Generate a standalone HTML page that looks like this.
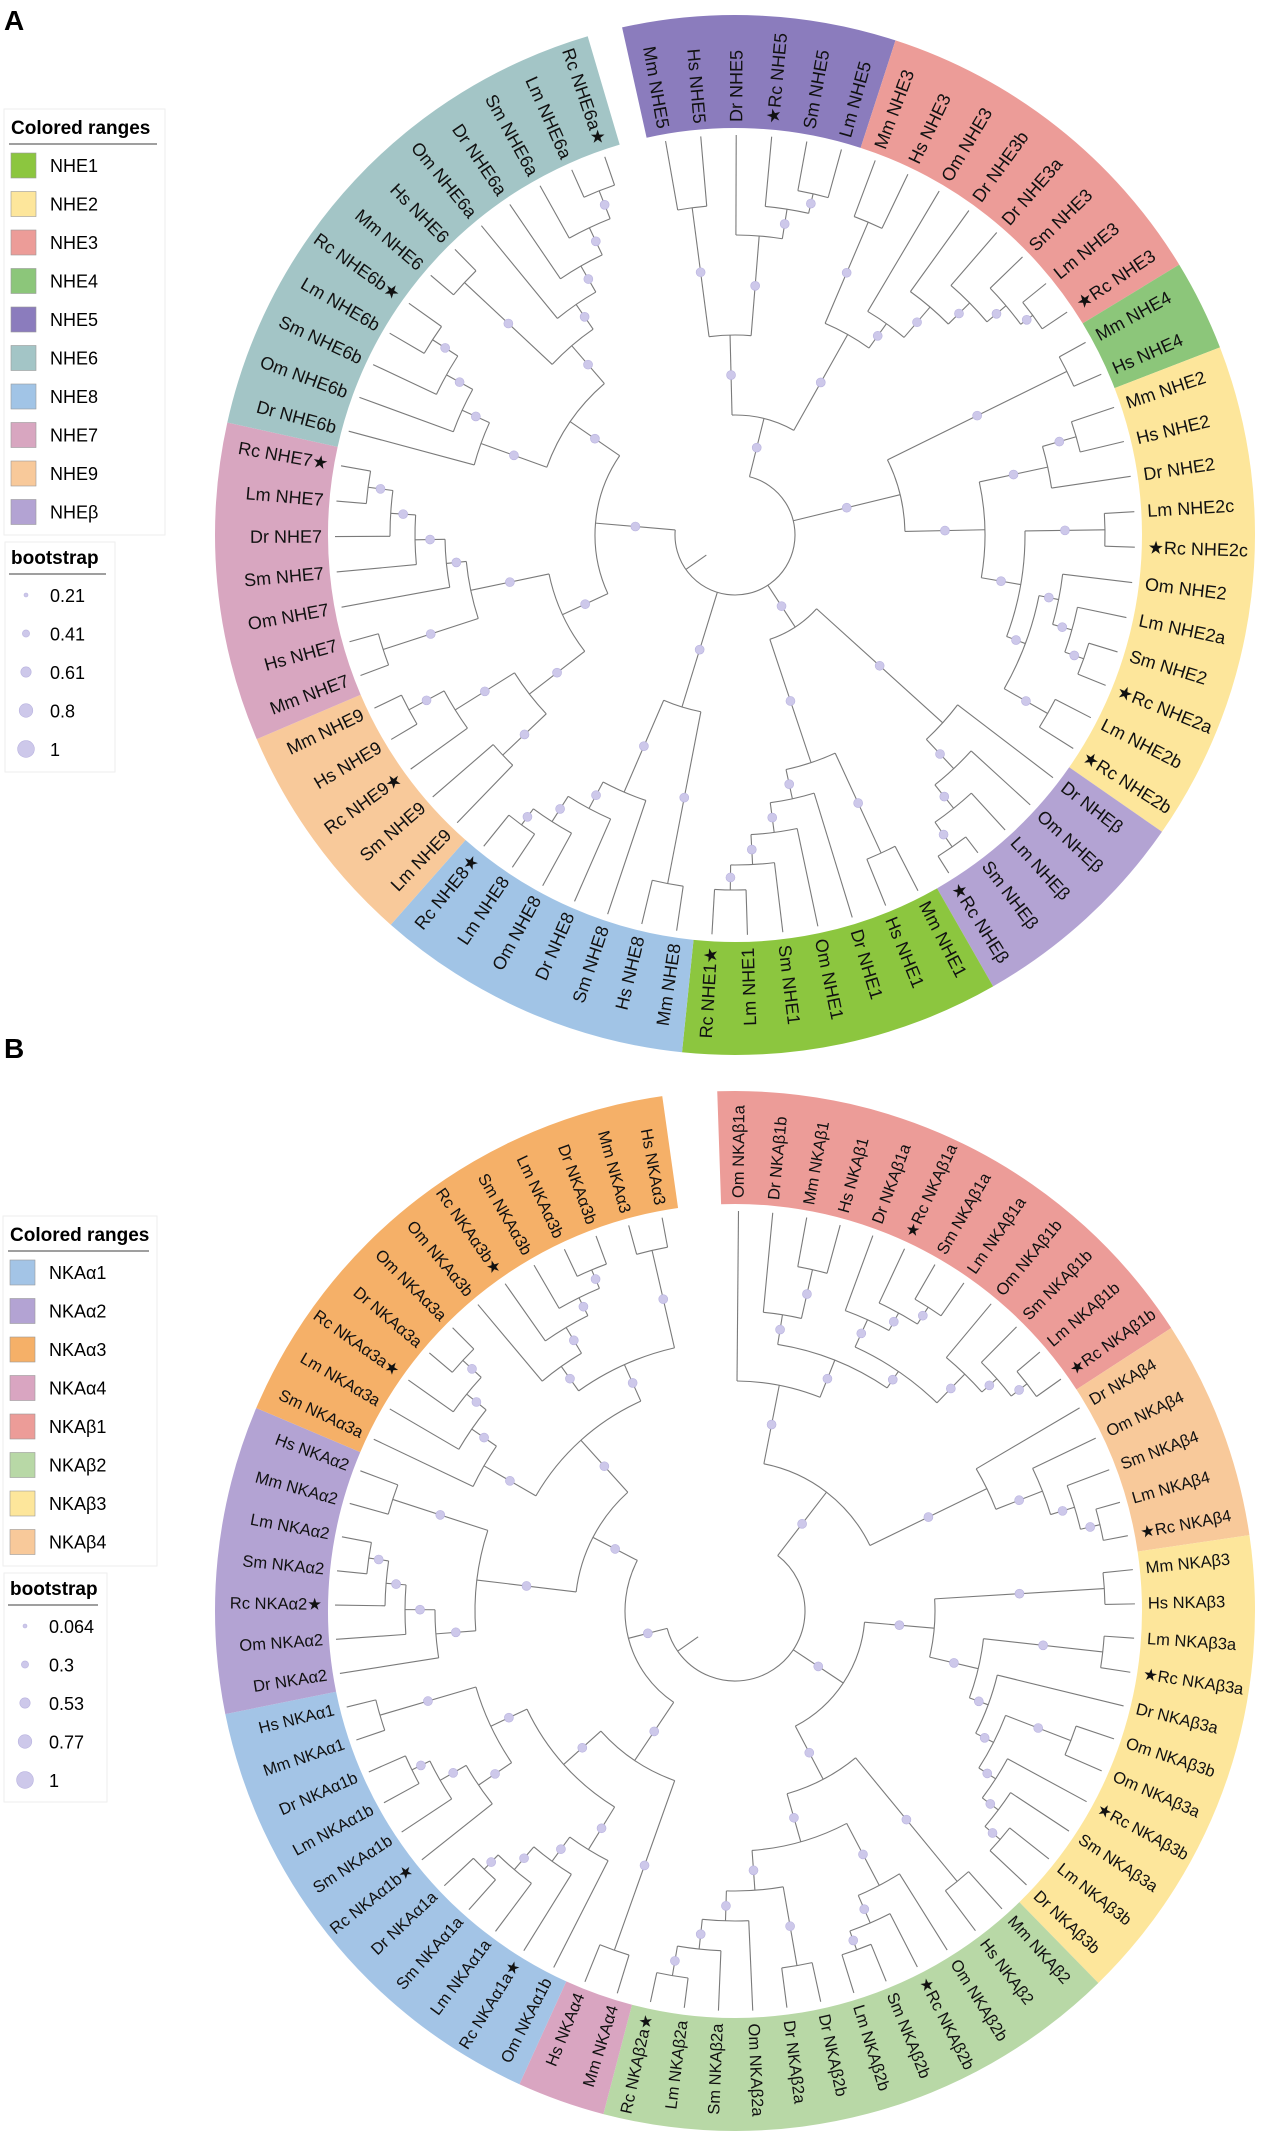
<!DOCTYPE html>
<html><head><meta charset="utf-8"><style>
body{margin:0;background:#fff;}
svg{display:block;font-family:"Liberation Sans","DejaVu Sans",sans-serif;}
</style></head><body>
<svg id="fig" width="1265" height="2145" viewBox="0 0 1265 2145" xmlns="http://www.w3.org/2000/svg">
<text x="4" y="30" font-size="28" font-weight="bold">A</text>
<text x="4" y="1058" font-size="28" font-weight="bold">B</text>
<g id="treeA"></g>
<g id="treeB"></g>
<g id="legends"></g>
</svg>
<script>
// ---- Tree A data ----
const cladesA = ["NHE5","NHE3","NHE4","NHE2","NHEβ","NHE1","NHE8","NHE9","NHE7","NHE6"];
const cladeCountsA = [6,8,2,11,5,7,7,5,7,12];
const cladeColorsA = ["#8b7cbd","#ec9c98","#8cc67a","#fde69b","#b3a3d3","#8cc63f","#a1c4e6","#f8c99a","#d8a6c0","#a3c5c6"];
const leavesA = ["Mm NHE5","Hs NHE5","Dr NHE5","★Rc NHE5","Sm NHE5","Lm NHE5",
"Mm NHE3","Hs NHE3","Om NHE3","Dr NHE3b","Dr NHE3a","Sm NHE3","Lm NHE3","★Rc NHE3",
"Mm NHE4","Hs NHE4",
"Mm NHE2","Hs NHE2","Dr NHE2","Lm NHE2c","★Rc NHE2c","Om NHE2","Lm NHE2a","Sm NHE2","★Rc NHE2a","Lm NHE2b","★Rc NHE2b",
"Dr NHEβ","Om NHEβ","Lm NHEβ","Sm NHEβ","★Rc NHEβ",
"Mm NHE1","Hs NHE1","Dr NHE1","Om NHE1","Sm NHE1","Lm NHE1","Rc NHE1★",
"Mm NHE8","Hs NHE8","Sm NHE8","Dr NHE8","Om NHE8","Lm NHE8","Rc NHE8★",
"Lm NHE9","Sm NHE9","Rc NHE9★","Hs NHE9","Mm NHE9",
"Mm NHE7","Hs NHE7","Om NHE7","Sm NHE7","Dr NHE7","Lm NHE7","Rc NHE7★",
"Dr NHE6b","Om NHE6b","Sm NHE6b","Lm NHE6b","Rc NHE6b★","Mm NHE6","Hs NHE6","Om NHE6a","Dr NHE6a","Sm NHE6a","Lm NHE6a","Rc NHE6a★"];
const bootTicksA = ["0.21","0.41","0.61","0.8","1"];
const A5="((0,1)330,(2,(3,(4,5)350)330)300)200";
const A3="((6,7)340,(8,(9,(10,(11,(12,13)370)355)330)300)260)230";
const A4="(14,15)370";
const A2="(((16,17)355,18)320,((19,20)370,((21,(22,(23,24)370)350)330,(25,26)360)310)290)250";
const Ab="(27,(28,(29,(30,31)380)350)320)280";
const A1="((32,33)350,(34,(35,(36,(37,38)355)330)300)270)240";
const A8="((39,40)355,(41,(42,(43,(44,45)360)340)310)280)180";
const A9="((46,47)320,(48,(49,50)370)330)260";
const A7="((51,52)370,(53,(54,(55,(56,57)370)345)320)290)270";
const A6="((58,(59,(60,(61,62)360)330)300)270,((63,64)370,(65,(66,(67,(68,69)370)340)310)280)250)200";
const treeA="(("+A5+","+A3+")120,("+A4+","+A2+")170,("+Ab+","+A1+")110,"+A8+",(("+A9+","+A7+")190,"+A6+")140)60";

// ---- Tree B data ----
const cladesB = ["NKAβ1","NKAβ4","NKAβ3","NKAβ2","NKAα4","NKAα1","NKAα2","NKAα3"];
const cladeCountsB = [12,5,11,12,2,11,7,12];
const cladeColorsB = ["#ec9c98","#f8c99a","#fde69b","#b8d8a6","#d9a5c1","#a3c4e6","#b3a3d3","#f5b068"];
const leavesB = ["Om NKAβ1a","Dr NKAβ1b","Mm NKAβ1","Hs NKAβ1","Dr NKAβ1a","★Rc NKAβ1a","Sm NKAβ1a","Lm NKAβ1a","Om NKAβ1b","Sm NKAβ1b","Lm NKAβ1b","★Rc NKAβ1b",
"Dr NKAβ4","Om NKAβ4","Sm NKAβ4","Lm NKAβ4","★Rc NKAβ4",
"Mm NKAβ3","Hs NKAβ3","Lm NKAβ3a","★Rc NKAβ3a","Dr NKAβ3a","Om NKAβ3b","Om NKAβ3a","★Rc NKAβ3b","Sm NKAβ3a","Lm NKAβ3b","Dr NKAβ3b",
"Mm NKAβ2","Hs NKAβ2","Om NKAβ2b","★Rc NKAβ2b","Sm NKAβ2b","Lm NKAβ2b","Dr NKAβ2b","Dr NKAβ2a","Om NKAβ2a","Sm NKAβ2a","Lm NKAβ2a","Rc NKAβ2a★",
"Mm NKAα4","Hs NKAα4",
"Om NKAα1b","Rc NKAα1a★","Lm NKAα1a","Sm NKAα1a","Dr NKAα1a","Rc NKAα1b★","Sm NKAα1b","Lm NKAα1b","Dr NKAα1b","Mm NKAα1","Hs NKAα1",
"Dr NKAα2","Om NKAα2","Rc NKAα2★","Sm NKAα2","Lm NKAα2","Mm NKAα2","Hs NKAα2",
"Sm NKAα3a","Lm NKAα3a","Rc NKAα3a★","Dr NKAα3a","Om NKAα3a","Om NKAα3b","Rc NKAα3b★","Sm NKAα3b","Lm NKAα3b","Dr NKAα3b","Mm NKAα3","Hs NKAα3"];
const bootTicksB = ["0.064","0.3","0.53","0.77","1"];
const B1="(0,((1,(2,3)350)300,((4,(5,(6,7)360)340)320,(8,(9,(10,11)370)350)330)290)270)230";
const B4="(12,(13,(14,(15,16)375)355)330)280";
const B3="((17,18)370,((19,20)370,(21,((22,23)360,(24,(25,(26,27)350)330)310)290)270)250)200";
const B2="((28,29)350,((30,(31,(32,33)360)340)310,((34,35)360,(36,(37,(38,39)370)340)310)280)240)190";
const Ba4="(40,41)360";
const Ba1="((42,(43,(44,(45,46)360)340)310)280,((47,(48,(49,50)360)340)310,(51,52)370)270)230";
const Ba2="((53,(54,(55,(56,57)370)350)330)300,(58,59)360)260";
const Ba3="((60,(61,(62,(63,64)370)345)320)290,((65,(66,(67,(68,69)370)350)330)300,(70,71)370)270)230";
const treeB="(("+B1+","+B4+")150,("+B3+","+B2+")130,(("+Ba4+","+Ba1+")180,("+Ba2+","+Ba3+")160)110)70";

const NS="http://www.w3.org/2000/svg";
function mk(tag,attrs,parent){const e=document.createElementNS(NS,tag);for(const k in attrs)e.setAttribute(k,attrs[k]);parent.appendChild(e);return e;}
function parse(s){s=s.replace(/\s/g,'');let i=0;
 function node(){ if(s[i]=='('){i++;const c=[];while(true){c.push(node());if(s[i]==','){i++;continue;}if(s[i]==')'){i++;break;}}
   let n='';while(i<s.length&&/[0-9.]/.test(s[i]))n+=s[i++];return {c:c,r:+n};}
   let n='';while(i<s.length&&/[0-9]/.test(s[i]))n+=s[i++];return {leaf:+n};}
 return node();}
function pt(cx,cy,r,a){const t=a*Math.PI/180;return [cx+r*Math.sin(t),cy-r*Math.cos(t)];}

function drawTree(g,cfg){
 const {cx,cy,a0,step,rin,rout,tip,fs,names,counts,colors,tree}=cfg;
 const ang=i=>a0+i*step;
 let idx=0;
 counts.forEach((n,k)=>{
  const s=ang(idx)-step/2,e=ang(idx+n-1)+step/2;
  const p1=pt(cx,cy,rout,s),p2=pt(cx,cy,rout,e),p3=pt(cx,cy,rin,e),p4=pt(cx,cy,rin,s);
  const lg=(e-s)>180?1:0;
  const p=mk('path',{d:`M${p1}A${rout},${rout} 0 ${lg} 1 ${p2}L${p3}A${rin},${rin} 0 ${lg} 0 ${p4}Z`,fill:colors[k]},g);
  
  
  idx+=n;});
 const lines=mk('g',{stroke:'#7a7a7a','stroke-width':1.1,fill:'none'},g);
 
 
 const dots=mk('g',{fill:'#cdc8ea',stroke:'#b9b3df','stroke-width':0.6},g);
 
 
 function lay(n){ if(n.c===undefined){n.a=ang(n.leaf);n.rr=tip;return;} n.c.forEach(lay); n.a=(n.c[0].a+n.c[n.c.length-1].a)/2; n.rr=n.r;}
 const root=parse(tree); lay(root);
 function draw(n){ if(!n.c)return;
  const a1=n.c[0].a,a2=n.c[n.c.length-1].a;
  const p1=pt(cx,cy,n.r,a1),p2=pt(cx,cy,n.r,a2);
  mk('path',{d:`M${p1}A${n.r},${n.r} 0 ${(a2-a1)>180?1:0} 1 ${p2}`},lines);
  n.c.forEach(ch=>{
   const q1=pt(cx,cy,n.r,ch.a),q2=pt(cx,cy,ch.rr,ch.a);
   mk('line',{x1:q1[0],y1:q1[1],x2:q2[0],y2:q2[1]},lines);
   if(ch.c){const m=pt(cx,cy,(n.r+ch.rr)/2,ch.a);
    const d=mk('circle',{cx:m[0],cy:m[1],r:3+ (ch.c.length>1?1.5:0)},dots);
    
    }
   draw(ch);});
 }
 draw(root);
 const st=pt(cx,cy,root.r,235),st2=pt(cx,cy,root.r-25,235);
 mk('line',{x1:st[0],y1:st[1],x2:st2[0],y2:st2[1]},lines);
 names.forEach((nm,i)=>{
  let a=ang(i); let an=((a%360)+360)%360;
  const p=pt(cx,cy,rin+6,a);
  const right=(an<178||an>=358);
  const rot=right?a-90:a+90;
  const t=mk('text',{x:p[0],y:p[1],'font-size':fs,'text-anchor':right?'start':'end','dominant-baseline':'central',transform:`rotate(${rot} ${p[0]} ${p[1]})`,fill:'#111'},g);
  t.textContent=nm;
  
  
 });
}
drawTree(document.getElementById('treeA'),{cx:735,cy:535,a0:-10,step:351/69,rin:407,rout:520,tip:400,fs:18,names:leavesA,counts:cladeCountsA,colors:cladeColorsA,tree:treeA});
drawTree(document.getElementById('treeB'),{cx:735,cy:1611,a0:0.5,step:349/71,rin:407,rout:520,tip:400,fs:16.5,names:leavesB,counts:cladeCountsB,colors:cladeColorsB,tree:treeB});

function legend(g,x,y,w,h,names,colors,by,bw,bh,ticks,fs){
 const b=mk('rect',{x:x,y:y,width:w,height:h,fill:'#fff',stroke:'#eee'},g);
 
 
 const t=mk('text',{x:x+7,y:y+25,'font-size':19,'font-weight':'bold'},g);t.textContent='Colored ranges';
 
 
 mk('line',{x1:x+5,y1:y+35,x2:x+w-8,y2:y+35,stroke:'#666','stroke-width':1.2},g);
 names.forEach((n,i)=>{const yy=y+56+i*38.5;
  const r=mk('rect',{x:x+7,y:yy-12,width:25,height:25,fill:colors[i],stroke:'#999','stroke-width':0.6},g);
  
  
  const tt=mk('text',{x:x+46,y:yy+7,'font-size':fs},g);tt.textContent=n;
  
  });
 const b2=mk('rect',{x:x+1,y:by,width:bw,height:bh,fill:'#fff',stroke:'#eee'},g);
 
 
 const t2=mk('text',{x:x+7,y:by+22,'font-size':19,'font-weight':'bold'},g);t2.textContent='bootstrap';
 
 
 mk('line',{x1:x+5,y1:by+32,x2:x+bw-8,y2:by+32,stroke:'#666','stroke-width':1.2},g);
 ticks.forEach((tk,i)=>{const yy=by+53+i*38.5;
  const c=mk('circle',{cx:x+22,cy:yy,r:2+i*1.6,fill:'#cdc8ea',stroke:'#b9b3df','stroke-width':0.6},g);
  
  
  const tt=mk('text',{x:x+46,y:yy+7,'font-size':fs},g);tt.textContent=tk;
  
  });
}
const Lg=document.getElementById('legends');
const orderA=[5,3,1,2,0,9,6,8,7,4];
legend(Lg,4,109,161,426,orderA.map(i=>cladesA[i]),orderA.map(i=>cladeColorsA[i]),542,110,230,bootTicksA,18);
const orderB=[5,6,7,4,0,3,2,1];
legend(Lg,3,1216,154,350,orderB.map(i=>cladesB[i]),orderB.map(i=>cladeColorsB[i]),1573,103,229,bootTicksB,18);
</script>
</body></html>
